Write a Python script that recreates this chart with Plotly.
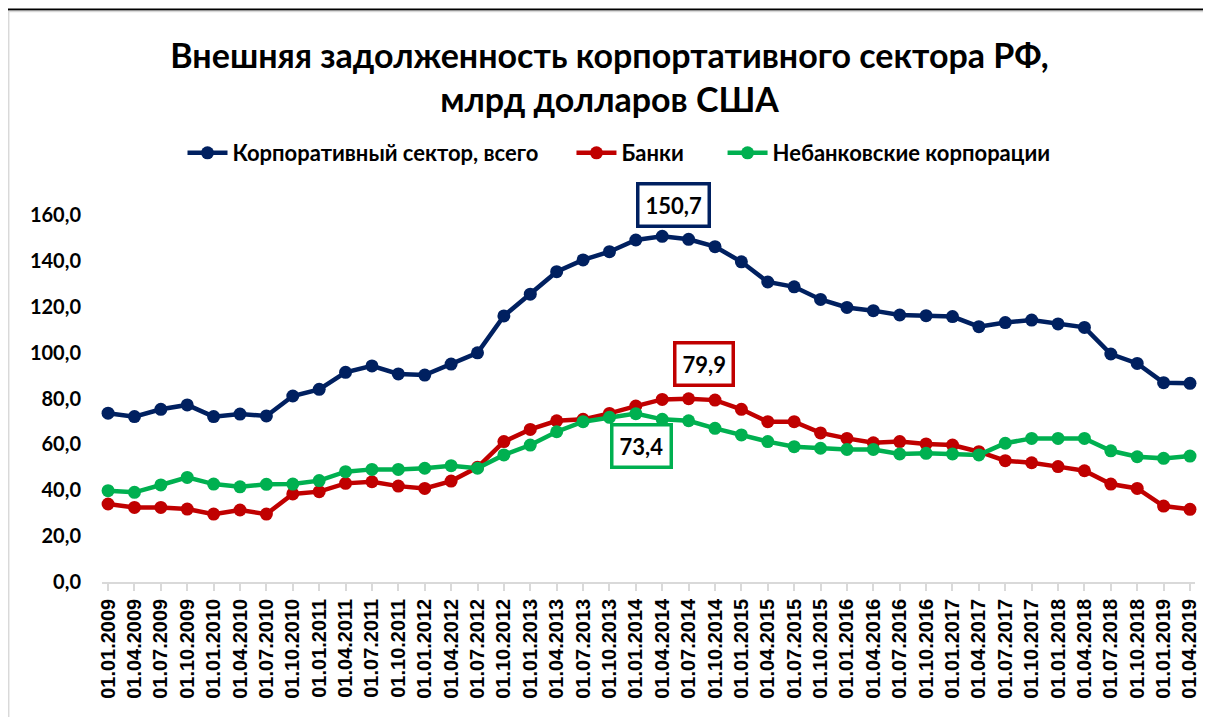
import plotly.graph_objects as go

categories = [f"01.{m}.{y}" for y in range(2009, 2020) for m in ("01", "04", "07", "10")][:42]

corporate_total = [73.6, 72.1, 75.3, 77.2, 72.1, 73.2, 72.4, 81.1, 84.0, 91.4, 94.2, 90.7, 90.2, 95.0,
                   99.9, 116.0, 125.5, 135.3, 140.4, 144.0, 149.1, 150.7, 149.4, 146.2, 139.6, 130.8,
                   128.7, 123.2, 119.7, 118.3, 116.4, 116.1, 115.7, 111.3, 113.1, 114.2, 112.5, 111.0,
                   99.4, 95.3, 86.9, 86.6]
banks = [34.0, 32.5, 32.5, 31.8, 29.6, 31.4, 29.6, 38.4, 39.4, 43.0, 43.7, 41.8, 40.8, 44.0,
         50.0, 61.2, 66.5, 70.3, 70.9, 73.5, 76.7, 79.6, 79.9, 79.3, 75.3, 69.9,
         69.9, 65.0, 62.6, 60.7, 61.2, 60.2, 59.7, 56.8, 52.9, 52.0, 50.3, 48.5,
         42.7, 40.8, 33.1, 31.7]
nonbank = [39.8, 39.1, 42.3, 45.6, 42.7, 41.5, 42.6, 42.7, 44.2, 48.1, 49.1, 49.1, 49.6, 50.7,
           49.6, 55.4, 59.7, 65.5, 69.9, 71.8, 73.4, 70.9, 70.3, 67.0, 64.1, 61.2,
           59.0, 58.3, 57.8, 57.8, 55.8, 56.1, 55.8, 55.4, 60.5, 62.6, 62.6, 62.6,
           57.2, 54.6, 53.9, 54.9]

series_names = ["Корпоративный сектор, всего", "Банки", "Небанковские корпорации"]
y_tickvals = [0, 20, 40, 60, 80, 100, 120, 140, 160]
y_ticktext = ["0,0", "20,0", "40,0", "60,0", "80,0", "100,0", "120,0", "140,0", "160,0"]

# labelled peaks: (series index, point index, text)
peak_labels = [(0, 21, "150,7"), (1, 22, "79,9"), (2, 20, "73,4")]

colors = ["#002060", "#C00000", "#00B050"]
data = [corporate_total, banks, nonbank]

# page body has an 8px margin, so the figure is drawn 8px in from the window corner
O = 8
W, H = 1211 - O, 717 - O
L, R, T, B = 102 - O, 16, 215 - O, 135
PW, PH = W - L - R, H - T - B

def px(x):  # window pixel -> paper
    return (x - O - L) / PW

def py(y):
    return 1 - (y - O - T) / PH

fig = go.Figure()
pads = [5, 6, 0]
for name, vals, c, p in zip(series_names, data, colors, pads):
    fig.add_trace(go.Scatter(
        x=categories, y=vals, name=f"<b>{name}</b>" + "\u00a0" * p, mode="lines+markers",
        line=dict(color=c, width=4.5),
        marker=dict(color=c, size=13),
        cliponaxis=False,
    ))

shifts = {0: (11, 31), 1: (15, 35), 2: (6, -32)}
for si, pi, txt in peak_labels:
    xs, ys = shifts[si]
    fig.add_annotation(
        x=categories[pi], y=data[si][pi], text=f"<b>{txt}</b>", showarrow=False,
        xshift=xs, yshift=ys,
        font=dict(family="Lato", size=22, color="black"),
        bordercolor=colors[si], borderwidth=3.5, borderpad=6, bgcolor="white",
    )

# outer frame
fig.add_shape(type="line", xref="paper", yref="paper",
              x0=px(8), x1=px(1211), y0=py(9.5), y1=py(9.5),
              line=dict(color="black", width=2))
fig.add_shape(type="line", xref="paper", yref="paper",
              x0=px(8.5), x1=px(1211), y0=py(11.5), y1=py(11.5),
              line=dict(color="#d9d9d9", width=1.5))
fig.add_shape(type="line", xref="paper", yref="paper",
              x0=px(8.7), x1=px(8.7), y0=py(11), y1=py(717),
              line=dict(color="#d9d9d9", width=1.5))

fig.update_layout(
    width=W, height=H,
    margin=dict(l=L, r=R, t=T, b=B, autoexpand=False),
    paper_bgcolor="white", plot_bgcolor="white",
    title=dict(
        text="<b>Внешняя задолженность корпортативного сектора РФ,<br>млрд долларов США</b>",
        x=0.5, xref="container", xanchor="center", y=1 - (67.5 - O) / H, yref="container", yanchor="middle",
        font=dict(family="Lato", size=34, color="black"),
    ),
    legend=dict(
        orientation="h", x=(619 - O) / W, xanchor="center", xref="container",
        y=1 - (153 - O) / H, yref="container", yanchor="middle",
        font=dict(family="Lato", size=22, color="black"),
        itemwidth=40, entrywidth=0,
        traceorder="normal",
    ),
    showlegend=True,
    font=dict(family="Lato", color="black"),
)

fig.update_xaxes(
    type="category", range=[-0.23, 41.19], automargin=False,
    tickangle=-90, tickfont=dict(family="Liberation Sans", size=20, color="black", weight="bold"),
    showline=True, linecolor="#d9d9d9", linewidth=1.5,
    ticks="outside", tickcolor="#d9d9d9", ticklen=7, tickwidth=1.5,
    showgrid=False, zeroline=False,
)
fig.update_yaxes(
    range=[0, 160], tickvals=y_tickvals, ticktext=[f"<b>{t}</b>" for t in y_ticktext],
    tickfont=dict(family="Lato", size=20, color="black"), automargin=False,
    showgrid=False, zeroline=False, showline=False, ticklabelstandoff=20,
)

fig.write_html("out.html")
